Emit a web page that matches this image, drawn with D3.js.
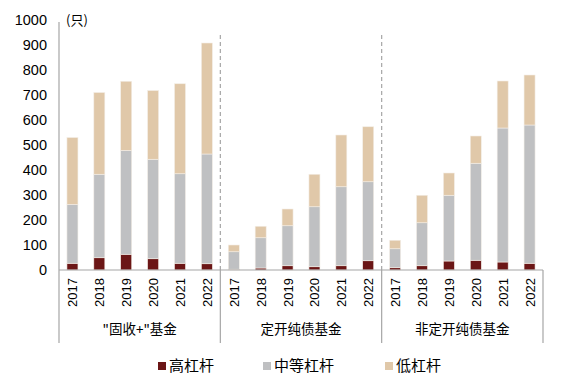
<!DOCTYPE html>
<html><head><meta charset="utf-8">
<script src="https://cdn.jsdelivr.net/npm/d3@7/dist/d3.min.js"></script>
<style>body{margin:0;background:#fff}svg{display:block}</style>
</head><body><svg id="c" width="576" height="384"></svg>
<script>
const groups = ["\"固收+\"基金", "定开纯债基金", "非定开纯债基金"];
const years = ["2017","2018","2019","2020","2021","2022"];
const seriesNames = ["高杠杆","中等杠杆","低杠杆"];
const colors = ["#6b1616","#bfc0c2","#e0c8a9"];
// values per group, per year
const high = [[27,49,63,45,27,25],[3,8,17,13,17,37],[9,17,36,39,32,27]];
const mid  = [[235,334,415,398,358,439],[70,121,160,240,316,316],[76,172,263,388,536,553]];
const low  = [[268,327,277,275,360,444],[27,46,67,130,207,220],[34,110,89,109,188,200]];
const yTicks = [0,100,200,300,400,500,600,700,800,900,1000];

(function(){
const svg = d3.select("#c");
const font = "'Liberation Sans', Arial, sans-serif";
const cjk = "'Noto Sans CJK SC', sans-serif";
const pL = 59, pR = 543, pT = 20, pB = 270;

const rows = [];
groups.forEach((g,gi)=>years.forEach((yr,yi)=>rows.push({key:gi+"-"+yr, g:gi, year:yr,
  v:[high[gi][yi], mid[gi][yi], low[gi][yi]]})));

const x = d3.scaleBand().domain(rows.map(r=>r.key)).range([pL,pR]).paddingInner(0.59).paddingOuter(0.295);
const y = d3.scaleLinear().domain([0,1000]).range([pB,pT]);

svg.append("g").selectAll("text").data(yTicks).join("text")
  .attr("x",47).attr("y",d=>y(d)).attr("dy","0.35em").attr("text-anchor","end")
  .attr("font-family",font).attr("font-size",14.5).attr("fill","#000").text(d=>d);
svg.append("text").attr("x",66).attr("y",y(1000)).attr("dy","0.35em")
  .attr("font-family",cjk).attr("font-size",13).text("(只)");

const stack = rows.map(r=>{let c=0; return r.v.map((v,i)=>{const o={key:r.key,i,y0:c,y1:c+v}; c+=v; return o;});}).flat();
svg.append("g").selectAll("rect").data(stack).join("rect")
  .attr("x",d=>x(d.key)).attr("width",x.bandwidth())
  .attr("y",d=>y(d.y1)).attr("height",d=>y(d.y0)-y(d.y1))
  .attr("fill",d=>colors[d.i]).attr("stroke","#f4efe8").attr("stroke-width",0.6);

const ax = svg.append("g").attr("stroke","#a6a6a6").attr("stroke-width",1.2);
ax.append("line").attr("x1",pL).attr("x2",pL).attr("y1",22).attr("y2",343);
ax.append("line").attr("x1",pL).attr("x2",pR).attr("y1",pB).attr("y2",pB);
ax.append("line").attr("x1",pR).attr("x2",pR).attr("y1",pB).attr("y2",343);
const step = x.step();
[1,2].forEach(gi=>{
  const sx = pL + step*6*gi;
  ax.append("line").attr("x1",sx).attr("x2",sx).attr("y1",35).attr("y2",pB).attr("stroke-dasharray","4,3");
  ax.append("line").attr("x1",sx).attr("x2",sx).attr("y1",pB).attr("y2",343);
});

svg.append("g").selectAll("text").data(rows).join("text")
  .attr("transform",r=>`translate(${x(r.key)+x.bandwidth()/2+5},278) rotate(-90)`)
  .attr("text-anchor","end").attr("font-family",font).attr("font-size",13).text(r=>r.year);

svg.append("g").selectAll("text").data(groups).join("text")
  .attr("x",(g,i)=>pL+step*(6*i+3)).attr("y",334).attr("text-anchor","middle")
  .attr("font-family",cjk).attr("font-size",13.5).text(d=>d);

const legX = [158,263,385];
const lg = svg.append("g").selectAll("g").data(seriesNames).join("g")
  .attr("transform",(d,i)=>`translate(${legX[i]},366)`);
lg.append("rect").attr("x",0).attr("y",-4).attr("width",8).attr("height",8).attr("fill",(d,i)=>colors[i]);
lg.append("text").attr("x",11).attr("y",0).attr("dy","0.35em").attr("font-family",cjk).attr("font-size",15).text(d=>d);
})();
</script></body></html>
